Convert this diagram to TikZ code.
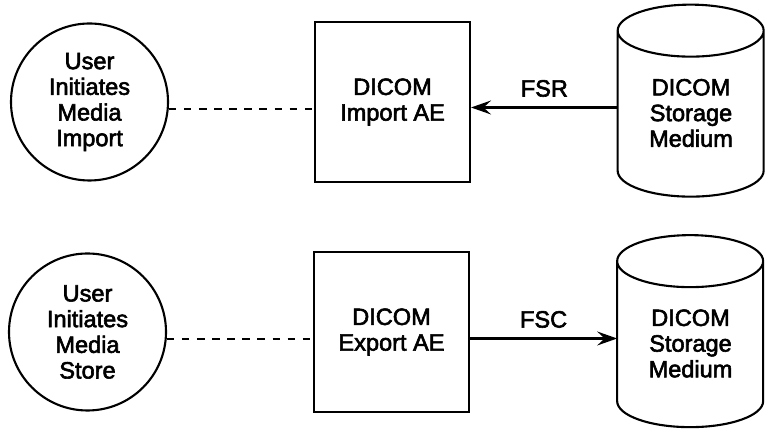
\documentclass[tikz,border=0pt]{standalone}
\usepackage{fontspec}
\setmainfont{Liberation Sans}[FakeBold=2.5]
\usepackage{tikz}
\usetikzlibrary{arrows.meta, calc, positioning}
\definecolor{Ink}{HTML}{000000}
\tikzset{
  actor/.style={circle, draw=Ink, line width=1.2pt, minimum size=3.14cm, inner sep=0pt, align=center, font=\fontsize{13.4}{14.6}\selectfont},
  process/.style={rectangle, draw=Ink, line width=1.2pt, minimum width=3.1cm, minimum height=3.2cm, inner sep=0pt, align=center, font=\fontsize{13.4}{14.6}\selectfont},
  medium/.style={rectangle, minimum width=2.92cm, minimum height=3.84cm, inner sep=0pt},
  outline/.style={draw=Ink, line width=1.2pt},
  label/.style={color=Ink, align=center, font=\fontsize{13.4}{14.6}\selectfont},
  flow/.style={-{Stealth[length=0.4cm, width=0.28cm, inset=0.15cm]}, line width=1.2pt, color=Ink},
  dashedlink/.style={dash pattern=on 4.3pt off 4.3pt, line width=1.2pt, color=Ink},
}

\begin{document}
\begin{tikzpicture}[scale=1.0]
  \useasboundingbox (0,0) rectangle (15.3,8.58);

  % import row
  \node[actor] (userimport) at (1.79,6.54) {User\\Initiates\\Media\\Import};
  \node[process] (importae) at (7.85,6.54) {DICOM\\Import AE};
  \node[medium] (storeimport) at (13.82,6.56) {};
  \node[label] (storeimporttext) at ([yshift=-0.24cm]storeimport.center) {DICOM\\Storage\\Medium};

  % export row
  \node[actor] (userexport) at (1.75,1.94) {User\\Initiates\\Media\\Store};
  \node[process] (exportae) at (7.83,1.94) {DICOM\\Export AE};
  \node[medium] (storeexport) at (13.81,1.95) {};
  \node[label] (storeexporttext) at ([yshift=-0.24cm]storeexport.center) {DICOM\\Storage\\Medium};

  \foreach \s in {storeimport, storeexport}
    \draw[outline] ($(\s.north west)+(0,-0.52)$) -- ++(0,-2.8)
      arc[start angle=180, end angle=360, x radius=1.46, y radius=0.52] -- ++(0,2.8)
      arc[start angle=0, end angle=180, x radius=1.46, y radius=0.52]
      arc[start angle=180, end angle=360, x radius=1.46, y radius=0.52];

  \draw[dashedlink] (userimport.-5) -- (userimport.-5 -| importae.west);
  \draw[dashedlink] (userexport.-5) -- (userexport.-5 -| exportae.west);

  \draw[flow] ([yshift=-0.13cm]storeimport.west) -- ([yshift=-0.13cm]storeimport.west -| importae.east)
    node[midway, above=5.5pt, inner sep=0pt, label] (fsr) {FSR};
  \draw[flow] ([yshift=-0.13cm]exportae.east) -- ([yshift=-0.13cm]exportae.east -| storeexport.west)
    node[midway, above=5.5pt, inner sep=0pt, label] (fsc) {FSC};
\end{tikzpicture}
\end{document}
